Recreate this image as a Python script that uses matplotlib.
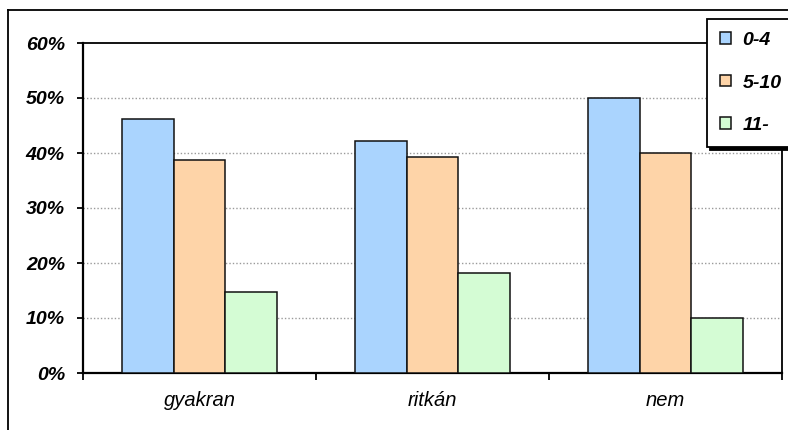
import matplotlib
matplotlib.use("Agg")
import matplotlib.pyplot as plt
import numpy as np
from matplotlib.lines import Line2D
from matplotlib.ticker import FixedLocator, PercentFormatter

categories = ["gyakran", "ritkán", "nem"]
series_names = ["0-4", "5-10", "11-"]
values_0_4 = [46.2, 42.1, 50.0]
values_5_10 = [38.8, 39.3, 40.0]
values_11 = [14.7, 18.2, 10.0]
series_colors = ["#AAD4FE", "#FED4A8", "#D4FCD4"]
y_ticks = [0, 10, 20, 30, 40, 50, 60]

plt.rcParams["font.family"] = ["Liberation Sans", "DejaVu Sans"]

W, H = 788, 430
fig = plt.figure(figsize=(W / 100, H / 100), dpi=100)
fig.patch.set_facecolor("white")

def fx(px):
    return px / W

def fy(py):
    return 1 - py / H

# outer chart frame (top and left edges visible)
fig.add_artist(Line2D([fx(8), fx(8)], [fy(10), fy(440)], color="black", lw=1.3,
                      transform=fig.transFigure))
fig.add_artist(Line2D([fx(8), fx(800)], [fy(10), fy(10)], color="black", lw=1.3,
                      transform=fig.transFigure))

ax = fig.add_axes([fx(83), fy(373), fx(782) - fx(83), fy(43) - fy(373)])

x = np.arange(len(categories))
bw = 1 / 4.5
all_series = [values_0_4, values_5_10, values_11]
handles = []
for i, (vals, col, name) in enumerate(zip(all_series, series_colors, series_names)):
    b = ax.bar(x + (i - 1) * bw, vals, width=bw, color=col, edgecolor="#111111",
               linewidth=1.1, label=name, zorder=3)
    handles.append(b)

ax.set_xlim(-0.5, 2.5)
ax.set_ylim(0, 60)
ax.yaxis.set_major_locator(FixedLocator(y_ticks))
ax.yaxis.set_major_formatter(PercentFormatter(decimals=0))
for t in y_ticks[1:-1]:
    ax.axhline(t, color="#9a9a9a", lw=1.0, linestyle=(0, (1, 1.5)), zorder=1)

for s in ax.spines.values():
    s.set_color("black")
    s.set_linewidth(1.3)
ax.spines["bottom"].set_linewidth(1.6)
ax.spines["left"].set_linewidth(1.6)

ax.tick_params(axis="y", direction="out", length=4, width=1.3, pad=9,
               labelsize=14)
for lab in ax.get_yticklabels():
    lab.set_fontweight("bold")
    lab.set_fontstyle("italic")

# category boundary ticks, labels at category centres
ax.xaxis.set_major_locator(FixedLocator([-0.5, 0.5, 1.5, 2.5]))
ax.xaxis.set_minor_locator(FixedLocator(x))
ax.set_xticklabels([])
ax.set_xticklabels(categories, minor=True)
ax.tick_params(axis="x", which="major", direction="out", length=5, width=1.3)
ax.tick_params(axis="x", which="minor", length=0, pad=13, labelsize=14.5)
for lab in ax.get_xticklabels(minor=True):
    lab.set_fontstyle("italic")

leg = ax.legend(handles=handles, loc="upper left",
                bbox_to_anchor=(fx(707), fy(19)), bbox_transform=fig.transFigure,
                frameon=True, fancybox=False, shadow={"color": "black", "alpha": 1},
                borderpad=0.68, labelspacing=1.3, handlelength=0.55,
                handleheight=0.55, handletextpad=0.6, borderaxespad=0,
                prop={"weight": "bold", "style": "italic", "size": 14})
leg.get_frame().set_edgecolor("black")
leg.get_frame().set_linewidth(1.3)
leg.set_zorder(10)

fig.savefig("out.png", dpi=100)
